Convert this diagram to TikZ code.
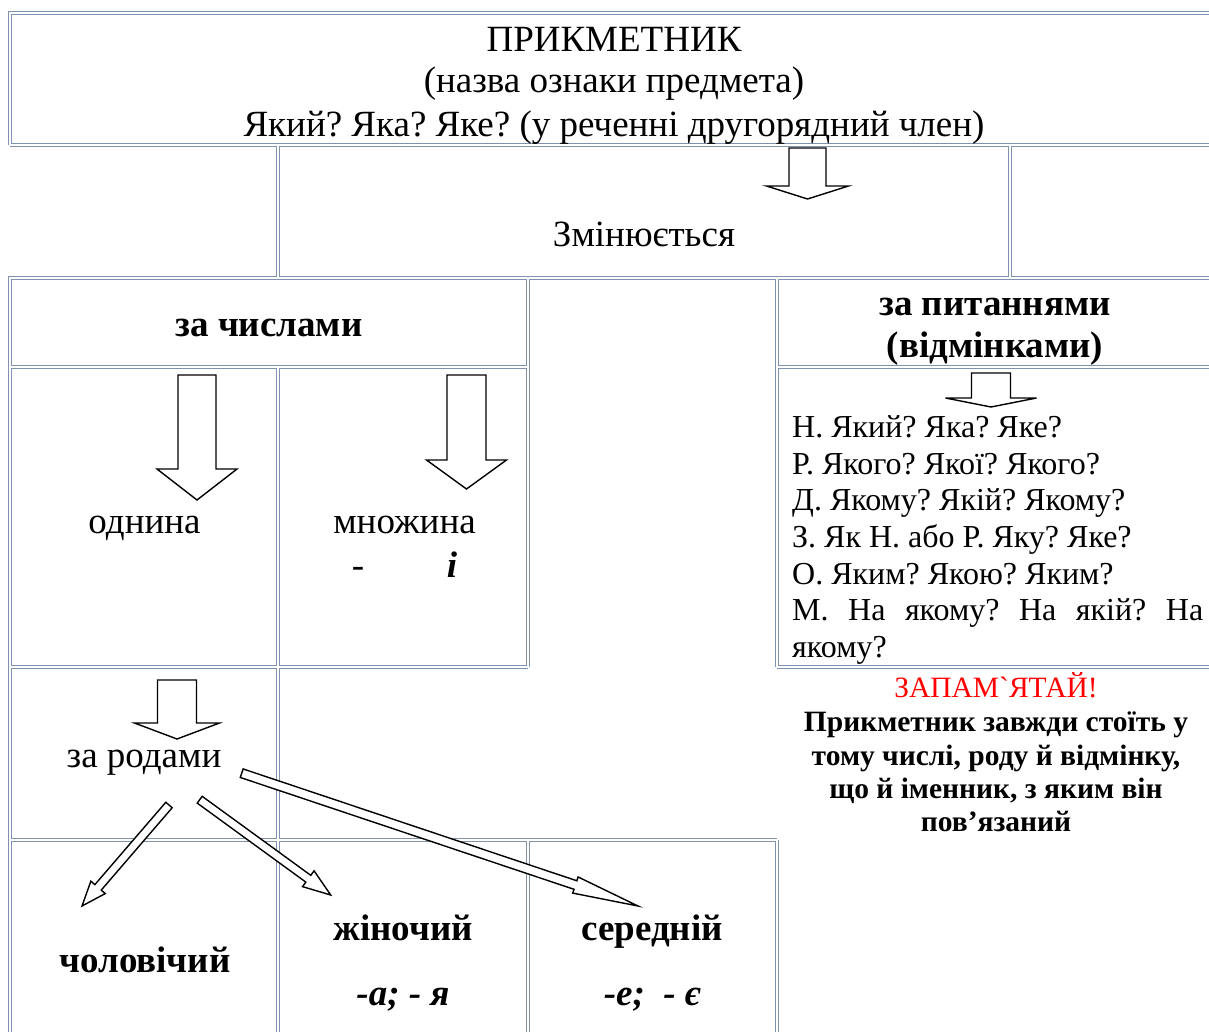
\documentclass[tikz,border=0pt]{standalone}
\usepackage{fontspec}
\setmainfont{Liberation Serif}
\newfontfamily\plainserif{Liberation Serif}[Ligatures=TeXOff]
\frenchspacing
\usetikzlibrary{calc}
\definecolor{lineblue}{RGB}{128,147,174}
\tikzset{
  tableline/.style={draw=lineblue, double=white, line width=1.6pt, double distance=1.2pt, line join=miter},
  arrowbody/.style={draw=black, fill=white, line width=1.4pt, line join=miter},
  big/.style={font=\fontsize{37}{42}\selectfont},
  bigbold/.style={font=\fontsize{37}{42}\selectfont\bfseries},
  bigboldit/.style={font=\fontsize{37}{42}\selectfont\bfseries\itshape},
  caseline/.style={font=\fontsize{32}{37}\selectfont, anchor=base west},
  noteline/.style={font=\fontsize{29.5}{33}\selectfont\bfseries},
}
% block arrow: tail, tip, half shaft, half head, head length
\newcommand{\blockarrow}[5]{%
  \coordinate (#2-base) at ($(#2)!#5!(#1)$);
  \draw[arrowbody] ($(#1)!#3!90:(#2)$) -- ($(#2-base)!#3!90:(#2)$) -- ($(#2-base)!#4!90:(#2)$)
    -- (#2) -- ($(#2-base)!#4!-90:(#2)$) -- ($(#2-base)!#3!-90:(#2)$) -- ($(#1)!#3!-90:(#2)$) -- cycle;
}
\begin{document}
\begin{tikzpicture}[x=1pt, y=-1pt, every node/.style={inner sep=0pt, anchor=base}]
  \useasboundingbox (0,0) rectangle (1209,1032);

  % Table
  \draw[tableline]
    (10,145) -- (10,13) -- (1216,13)
    (10,145) -- (1216,145)
    (278,145) -- (278,278)
    (1010,145) -- (1010,278)
    (10,1040) -- (10,278) -- (1216,278)
    (10,367) -- (528,367)
    (777,367) -- (1216,367)
    (528,278) -- (528,667)
    (777,278) -- (777,667)
    (10,667) -- (528,667)
    (777,667) -- (1216,667)
    (278,367) -- (278,1040)
    (10,840) -- (777,840)
    (528,840) -- (528,1040)
    (777,840) -- (777,1040);

  % Head
  \node (title) at (614,52) [big] {ПРИКМЕТНИК};
  \node (meaning) at (614,93) [big] {(назва ознаки предмета)};
  \node (questions) at (614,137) [big] {Який? Яка? Яке? (у реченні другорядний член)};
  \node (changes) at (644,247) [big] {Змінюється};

  % Number
  \node (bynumber) at (269,336) [bigbold] {за числами};
  \node (singular) at (144.5,533) [big] {однина};
  \node (plural) at (404.5,533) [big] {множина};
  \node (dash) at (358,577) [big] {-};
  \node (ending) at (452,577) [bigboldit] {і};

  % Cases
  \node (bycase) at (995,315) [bigbold] {за питаннями};
  \node (cases) at (995,357) [bigbold] {(відмінками)};
  \node (caseN) at (792,437) [caseline] {Н. Який? Яка? Яке?};
  \node (caseR) at (792,474) [caseline] {Р. Якого? Якої? Якого?};
  \node (caseD) at (792,510) [caseline] {Д. Якому? Якій? Якому?};
  \node (caseZ) at (792,547) [caseline] {З. Як Н. або Р. Яку? Яке?};
  \node (caseO) at (792,584) [caseline] {О. Яким? Якою? Яким?};
  \node (caseM) at (792,620) [caseline] {\makebox[411pt][s]{М. На якому? На якій? На}};
  \node (caseM2) at (792,657) [caseline] {якому?};

  % Remember
  \node (remember) at (996,697) [font=\fontsize{29.5}{33}\selectfont\plainserif, text=red] {ЗАПАМ`ЯТАЙ!};
  \node (rule1) at (996,731) [noteline] {Прикметник завжди стоїть у};
  \node (rule2) at (996,765) [noteline] {тому числі, роду й відмінку,};
  \node (rule3) at (996,798) [noteline] {що й іменник, з яким він};
  \node (rule4) at (996,831) [noteline] {пов’язаний};

  % Gender
  \node (bygender) at (144,767) [big] {за родами};
  \node (masc) at (145,972) [bigbold] {чоловічий};
  \node (fem) at (403,940) [bigbold] {жіночий};
  \node (femend) at (403,1005) [bigboldit] {-а; - я};
  \node (neut) at (652,940) [bigbold] {середній};
  \node (neutend) at (652,1005) [bigboldit] {-е;\enspace- є};

  % Arrows
  \coordinate (a1) at (807.5,148);  \coordinate (b1) at (807.5,199);
  \coordinate (a2) at (197,375);    \coordinate (b2) at (197,500);
  \coordinate (a3) at (466.5,375);  \coordinate (b3) at (466.5,489);
  \coordinate (a4) at (177,680);    \coordinate (b4) at (177,739);
  \coordinate (a5) at (991,373);    \coordinate (b5) at (991,407);
  \coordinate (a6) at (169,805);    \coordinate (b6) at (82,906);
  \coordinate (a7) at (199.7,799.7); \coordinate (b7) at (330.7,895);
  \coordinate (a8) at (241.7,773.2); \coordinate (b8) at (638,906);
  \blockarrow{a1}{b1}{18.5pt}{41pt}{13pt}
  \blockarrow{a2}{b2}{19pt}{40pt}{31pt}
  \blockarrow{a3}{b3}{19.5pt}{40pt}{29pt}
  \blockarrow{a4}{b4}{19.5pt}{42.5pt}{16pt}
  \blockarrow{a5}{b5}{19.5pt}{45.5pt}{9pt}
  \blockarrow{a6}{b6}{4.2pt}{9.5pt}{24.6pt}
  \blockarrow{a7}{b7}{4.2pt}{9.8pt}{27.7pt}
  \blockarrow{a8}{b8}{4.5pt}{8.5pt}{66pt}
\end{tikzpicture}
\end{document}
